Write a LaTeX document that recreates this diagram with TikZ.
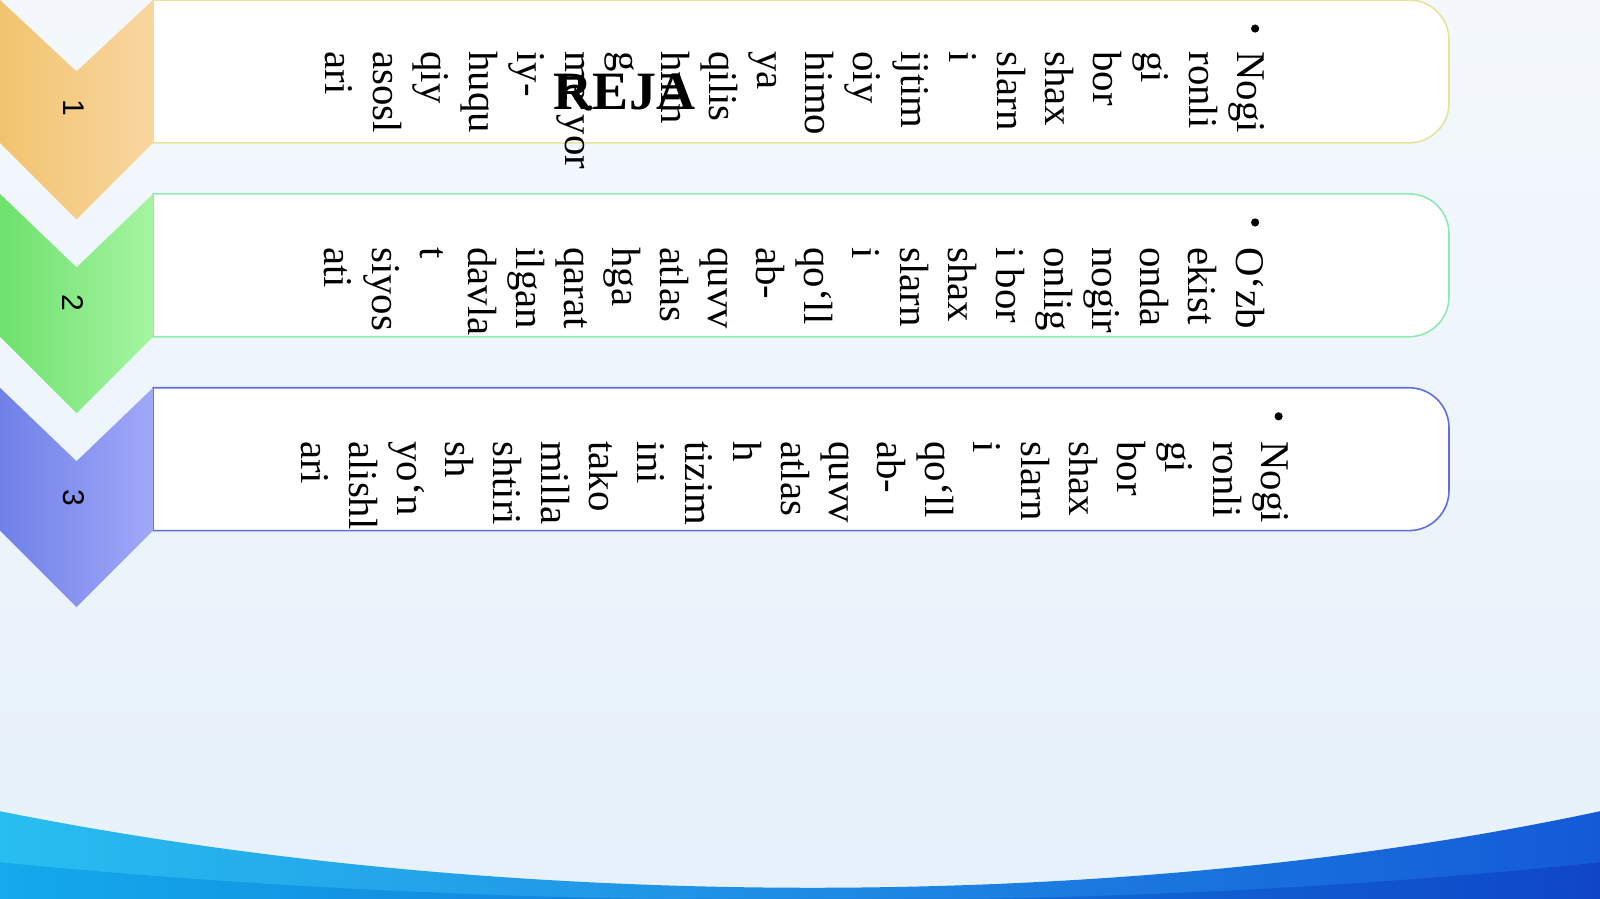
\documentclass[tikz,border=0pt]{standalone}
\usepackage{fontspec}
\setmainfont{Liberation Serif}
\newfontfamily\numfont{Liberation Sans}
\definecolor{bgtop}{HTML}{F4F8FC}
\definecolor{bgbot}{HTML}{E6F1FB}
\definecolor{edgeone}{HTML}{E4E49A}
\definecolor{edgetwo}{HTML}{8EEAB4}
\definecolor{edgethree}{HTML}{5E6EE0}
\tikzset{
  planbox/.style={fill=white, line width=0.8pt},
  plantext/.style={rotate=-90, anchor=north west, inner sep=0pt, align=left,
    font=\fontsize{20.4}{24}\selectfont},
  stepnum/.style={rotate=-90, inner sep=0pt, font=\numfont\fontsize{15}{18}\selectfont},
}
\begin{document}
\begin{tikzpicture}[x=0.5102pt, y=-0.5102pt]
\useasboundingbox (0,0) rectangle (1568,881);
% background
\shade[top color=bgtop, bottom color=bgbot] (0,0) rectangle (1568,881);
% bottom wave
\shade[left color={rgb,255:red,40;green,190;blue,240}, right color={rgb,255:red,20;green,90;blue,215}]
  (0,795) .. controls (500,895) and (1100,895) .. (1568,795) -- (1568,881) -- (0,881) -- cycle;
\shade[left color={rgb,255:red,20;green,170;blue,235}, right color={rgb,255:red,15;green,70;blue,200}]
  (0,845) .. controls (500,895) and (1100,895) .. (1568,845) -- (1568,881) -- (0,881) -- cycle;
% boxes
\draw[planbox, draw=edgeone] (150,0) [rounded corners=20] -- (1420,0) -- (1420,140) [sharp corners] -- (150,140) -- cycle;
\draw[planbox, draw=edgetwo] (150,190) [rounded corners=20] -- (1420,190) -- (1420,330) [sharp corners] -- (150,330) -- cycle;
\draw[planbox, draw=edgethree] (150,380) [rounded corners=20] -- (1420,380) -- (1420,520) [sharp corners] -- (150,520) -- cycle;
% chevrons
\shade[left color={rgb,255:red,240;green,196;blue,110}, right color={rgb,255:red,250;green,214;blue,160}]
  (0,0) -- (75,70) -- (150,0) -- (150,140) -- (75,215) -- (0,140) -- cycle;
\shade[left color={rgb,255:red,110;green,225;blue,110}, right color={rgb,255:red,165;green,245;blue,160}]
  (0,190) -- (75,262) -- (150,190) -- (150,330) -- (75,405) -- (0,330) -- cycle;
\shade[left color={rgb,255:red,112;green,128;blue,232}, right color={rgb,255:red,160;green,168;blue,248}]
  (0,380) -- (75,452) -- (150,380) -- (150,520) -- (75,595) -- (0,520) -- cycle;
\node[stepnum] (n1) at (72,106) {1};
\node[stepnum] (n2) at (72,297) {2};
\node[stepnum] (n3) at (72,488) {3};
% bullets
\fill (1230,28) circle (4);
\fill (1230,218) circle (4);
\fill (1253,408) circle (4);
% texts
\node[plantext] (t1) at (1240,50) {Nogi\\ronli\\gi\\bor\\shax\\slarn\\i\\ijtim\\oiy\\himo\\ya\\qilis\\hnin\\g\\me’yor\\iy-\\huqu\\qiy\\asosl\\ari};
\node[plantext] (t2) at (1240,242) {O‘zb\\ekist\\onda\\nogir\\onlig\\i bor\\shax\\slarn\\i\\qo‘ll\\ab-\\quvv\\atlas\\hga\\qarat\\ilgan\\davla\\t\\siyos\\ati};
\node[plantext] (t3) at (1263,432) {Nogi\\ronli\\gi\\bor\\shax\\slarn\\i\\qo‘ll\\ab-\\quvv\\atlas\\h\\tizim\\ini\\tako\\milla\\shtiri\\sh\\yo‘n\\alishl\\ari};
% title
\node[font=\bfseries\fontsize{27}{30}\selectfont, inner sep=0pt] (title) at (612,90) {REJA};
\end{tikzpicture}
\end{document}
